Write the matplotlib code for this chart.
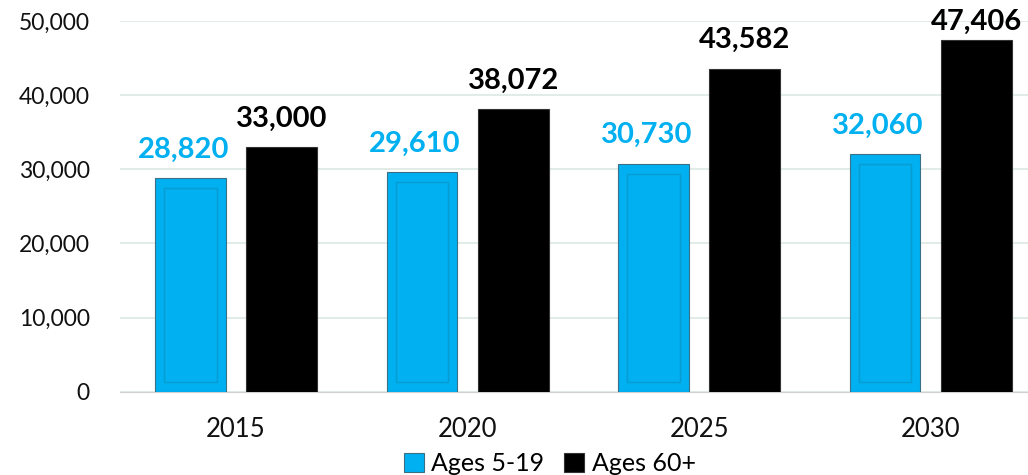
import numpy as np
import matplotlib.pyplot as plt
from matplotlib.ticker import FuncFormatter

years = ['2015', '2020', '2025', '2030']
ages_5_19 = [28820, 29610, 30730, 32060]
ages_60 = [33000, 38072, 43582, 47406]

blue = '#00b0f0'
black = '#000000'

plt.rcParams['font.family'] = ['Lato', 'DejaVu Sans']

fig = plt.figure(figsize=(10.28, 4.75), dpi=100)
ax = fig.add_axes([0.117, 0.175, 0.883, 0.781])

x = np.arange(len(years))
w = 0.305
off = 0.197

ax.bar(x - off, ages_5_19, w, color=blue, edgecolor='#3a6f85', linewidth=0.8, zorder=3, label='Ages 5-19')
ax.bar(x + off, ages_60, w, color=black, edgecolor='#333333', linewidth=0.8, zorder=3, label='Ages 60+')

# inner bevel rectangles
inset = 1350
ax.bar(x - off, np.array(ages_5_19) - 2 * inset, w * 0.74, bottom=inset,
       color='none', edgecolor='#0a9bcf', linewidth=1.0, zorder=4)

# labels above bars, pushed down if they would leave the chart (like Excel)
for xi, v in zip(x, ages_5_19):
    ax.text(xi - off - 0.03, min(v + 2100, 48100), f'{v:,}', ha='center', va='bottom',
            color=blue, fontsize=21, fontweight='bold', clip_on=False)
for xi, v in zip(x, ages_60):
    ax.text(xi + off, min(v + 2100, 48100), f'{v:,}', ha='center', va='bottom',
            color=black, fontsize=21, fontweight='bold', clip_on=False, zorder=5)

ax.set_ylim(0, 50000)
ax.set_xlim(-0.5, 3.42)
ax.set_yticks(np.arange(0, 50001, 10000))
ax.yaxis.set_major_formatter(FuncFormatter(lambda v, p: f'{int(v):,}'))
ax.set_xticks(x)
ax.set_xticklabels(years)
ax.tick_params(axis='both', length=0, colors='#111111')
ax.tick_params(axis='y', labelsize=16.5, pad=22)
ax.tick_params(axis='x', labelsize=18.5, pad=18)
ax.grid(axis='y', color='#dbe9e3', linewidth=1.2, zorder=0)
for s in ['top', 'right', 'left']:
    ax.spines[s].set_visible(False)
ax.spines['bottom'].set_color('#d0d0d0')

ax.legend(loc='upper center', bbox_to_anchor=(0.473, -0.135), ncol=2, frameon=False,
          fontsize=18, handlelength=0.8, handleheight=0.8, handletextpad=0.3,
          columnspacing=0.8, borderaxespad=0)

fig.savefig('out.png', dpi=100)
